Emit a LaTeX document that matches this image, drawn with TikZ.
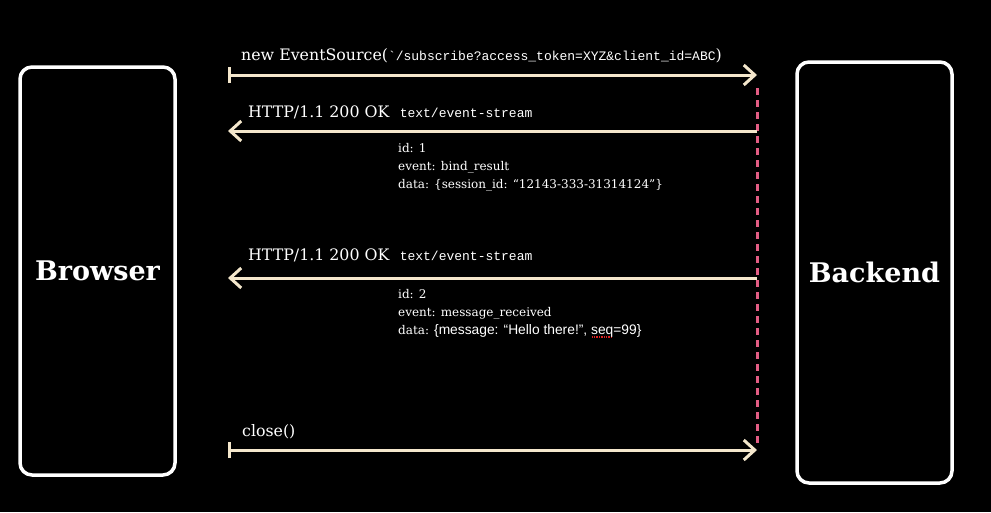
\documentclass[tikz,border=0pt]{standalone}
\usepackage{fontspec}
\setmainfont{DejaVu Serif}
\setmonofont{Liberation Mono}
\newfontfamily\heavyfont{DejaVu Serif}
\newfontfamily\plainsans{Liberation Sans}
\usetikzlibrary{arrows.meta, positioning}
\definecolor{cream}{HTML}{F4E7CC}
\definecolor{pinkline}{HTML}{E35D84}
\definecolor{spellred}{HTML}{E02020}
\newcommand\spellmark[1]{\setbox0\hbox{#1}\rlap{\raisebox{-3.5pt}{\leaders\hbox to 2.4pt{\hss\textcolor{spellred}{\rule{1.4pt}{1.6pt}}\hss}\hskip\wd0}}#1}

\begin{document}
\begin{tikzpicture}[x=1pt, y=-1pt, >={Straight Barb[length=11pt,width=20pt]},
    party/.style={draw=white, line width=3.5pt, rounded corners=12pt, text=white,
                  font=\heavyfont\bfseries\fontsize{27}{30}\selectfont},
    msg/.style={draw=cream, line width=3pt},
    lbl/.style={text=white, anchor=base west, inner sep=0pt,
                font=\fontsize{15.8}{20}\selectfont},
    mono/.style={font=\ttfamily\fontsize{13}{15}\selectfont},
    body/.style={text=white, anchor=north west, inner sep=0pt, align=left,
                 font=\fontsize{12}{18}\selectfont}]
    \fill[black] (0,0) rectangle (991,512);
    \useasboundingbox (0,0) rectangle (991,512);

    %define the two parties
    \node[party, minimum width=155pt, minimum height=408pt] (browser) at (97.5,271) {Browser};
    \node[party, minimum width=155pt, minimum height=421pt] (backend) at (874.5,272.5) {Backend};

    %points where the messages start and end
    \coordinate (b1) at (228,75);  \coordinate (e1) at (757,75);
    \coordinate (b2) at (228,131); \coordinate (e2) at (757,131);
    \coordinate (b3) at (228,278); \coordinate (e3) at (757,278);
    \coordinate (b4) at (228,450); \coordinate (e4) at (757,450);
    \coordinate (lifetop) at (757,88); \coordinate (lifebot) at (757,445);

    %backend lifeline
    \draw[pinkline, line width=3pt, dash pattern=on 7pt off 5pt] (lifetop) -- (lifebot);

    %define the messages
    \draw[msg, {Bar[width=16pt]}->] (b1) -- (e1);
    \draw[msg, {Bar[width=14pt]}-, ->] (e2) -- (b2);
    \draw[msg, {Bar[width=14pt]}-, ->] (e3) -- (b3);
    \draw[msg, {Bar[width=16pt]}->] (b4) -- (e4);

    %labels of the messages
    \node[lbl] (open) at (241,60) {new EventSource({\ttfamily\fontsize{13}{14}\selectfont`/subscribe?access\_token=XYZ\&client\_id=ABC})};
    \node[lbl] (ok1) at (248,117) {HTTP/1.1 200 OK};
    \node[lbl, mono, right=10pt of ok1.base east, anchor=base west] (type1) {text/event-stream};
    \node[lbl] (ok2) at (248,260) {HTTP/1.1 200 OK};
    \node[lbl, mono, right=10pt of ok2.base east, anchor=base west] (type2) {text/event-stream};
    \node[lbl] (shut) at (242,436) {close()};

    %event payloads
    \node[body] (ev1) at (398,143) {id: 1\\event: bind\_result\\data: \{session\_id: “12143-333-31314124”\}};
    \node[body] (ev2) at (398,289) {id: 2\\event: message\_received\\data: {\plainsans\fontsize{13.8}{18}\selectfont\{message: “Hello there!”, \spellmark{seq}=99\}}};
\end{tikzpicture}
\end{document}
